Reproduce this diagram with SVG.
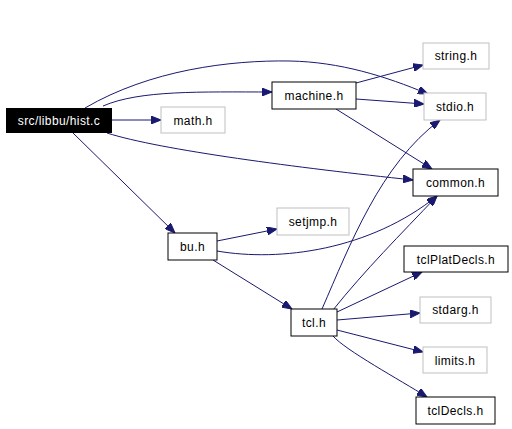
<svg xmlns="http://www.w3.org/2000/svg" width="512" height="429" viewBox="0 0 512 429">
<style>
.n rect{fill:#fff;stroke:#000;stroke-width:1}
.g rect{fill:#fff;stroke:#bfbfbf;stroke-width:1}
text{font-family:"Liberation Sans",Arial,sans-serif;font-size:12px;text-anchor:middle;fill:#000;letter-spacing:0.4px}
#edges path{fill:none;stroke:#191970;stroke-width:1;marker-end:url(#ah)}
</style>
<defs>
<marker id="ah" markerUnits="userSpaceOnUse" markerWidth="11" markerHeight="8" refX="10" refY="4" orient="auto">
<path d="M0,0 L10,4 L0,8 z" fill="#191970" stroke="#191970" stroke-width="1"/>
</marker>
</defs>
<rect width="512" height="429" fill="#fff"/>
<g id="edges">
<path d="M85,108 C150,70 230,60 290,61 C340,62 385,76 428,94"/>
<path d="M103,106 C140,90 200,92 272,92"/>
<path d="M112,120 L161,120"/>
<path d="M107,133 C160,150 300,168 413,180"/>
<path d="M73,133 L175,233"/>
<path d="M356,83 L423,65"/>
<path d="M356,99 L424,104"/>
<path d="M336,109 L432,169"/>
<path d="M217,241 L277,229"/>
<path d="M217,251 C280,262 370,250 437,196"/>
<path d="M213,260 L292,309"/>
<path d="M322,309 C350,245 380,165 440,120"/>
<path d="M333,310 C365,270 400,235 437,196"/>
<path d="M337,312 L422,272"/>
<path d="M337,320 L420,313"/>
<path d="M337,330 L423,352"/>
<path d="M333,336 C345,350 400,380 427,397"/>
</g>
<g id="hist_c"><rect x="6" y="108" width="106" height="25" fill="#000"/><text x="59" y="125" fill="#fff" style="fill:#fff">src/libbu/hist.c</text></g>
<g id="math_h" class="g"><rect x="161" y="107" width="64" height="26"/><text x="193" y="125">math.h</text></g>
<g id="machine_h" class="n"><rect x="272" y="82" width="84" height="27"/><text x="314" y="100">machine.h</text></g>
<g id="string_h" class="g"><rect x="423" y="43" width="66" height="26"/><text x="456" y="60">string.h</text></g>
<g id="stdio_h" class="g"><rect x="424" y="93" width="62" height="27"/><text x="455" y="111">stdio.h</text></g>
<g id="common_h" class="n"><rect x="413" y="169" width="85" height="27"/><text x="455.5" y="187">common.h</text></g>
<g id="setjmp_h" class="g"><rect x="277" y="208" width="72" height="27"/><text x="313" y="226">setjmp.h</text></g>
<g id="bu_h" class="n"><rect x="168" y="233" width="49" height="27"/><text x="192.5" y="251">bu.h</text></g>
<g id="tclPlatDecls_h" class="n"><rect x="404" y="246" width="104" height="26"/><text x="456" y="264">tclPlatDecls.h</text></g>
<g id="stdarg_h" class="g"><rect x="420" y="297" width="71" height="26"/><text x="455.5" y="314">stdarg.h</text></g>
<g id="tcl_h" class="n"><rect x="291" y="309" width="46" height="27"/><text x="314" y="327">tcl.h</text></g>
<g id="limits_h" class="g"><rect x="423" y="347" width="64" height="26"/><text x="455" y="365">limits.h</text></g>
<g id="tclDecls_h" class="n"><rect x="416" y="397" width="79" height="27"/><text x="455.5" y="415">tclDecls.h</text></g>
</svg>
